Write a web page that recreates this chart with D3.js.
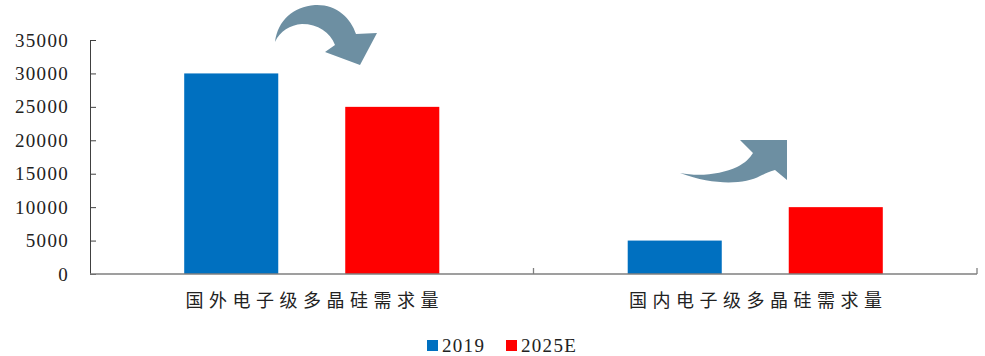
<!DOCTYPE html>
<html>
<head>
<meta charset="utf-8">
<script src="https://cdn.jsdelivr.net/npm/d3@7"></script>
<style>
  body { margin: 0; background: #fff; }
  .serif { font-family: "Liberation Serif", "Times New Roman", Times, serif; }
</style>
</head>
<body>
<div class="vis-bar"></div>
<script>
const categories = ["国外电子级多晶硅需求量", "国内电子级多晶硅需求量"];
const seriesNames = ["2019", "2025E"];
const values2019 = [30000, 5000];
const values2025E = [25000, 10000];
const yTicks = [0, 5000, 10000, 15000, 20000, 25000, 30000, 35000];

const colors = { "2019": "#0070C0", "2025E": "#FF0000" };
const arrowColor = "#6D8FA2";

const width = 985, height = 356;
const margin = { top: 40, right: 8, bottom: 82, left: 90 };

const svg = d3.select(".vis-bar")
  .append("svg")
  .attr("width", width)
  .attr("height", height);

const x0 = d3.scaleBand()
  .domain(categories)
  .range([margin.left, width - margin.right])
  .padding(0);

const x1 = d3.scaleBand()
  .domain(seriesNames)
  .range([0, x0.bandwidth()])
  .paddingInner(0.416)
  .paddingOuter(0.585);

const y = d3.scaleLinear()
  .domain([0, 35000])
  .range([height - margin.bottom, margin.top]);

const rows = categories.map((c, i) => ({
  cat: c,
  vals: [
    { key: "2019", value: values2019[i] },
    { key: "2025E", value: values2025E[i] }
  ]
}));

// bars
const groups = svg.selectAll(".grp")
  .data(rows)
  .enter()
  .append("g")
  .attr("class", "grp")
  .attr("transform", d => "translate(" + x0(d.cat) + ",0)");

groups.selectAll("rect")
  .data(d => d.vals)
  .enter()
  .append("rect")
  .attr("x", d => x1(d.key))
  .attr("y", d => y(d.value))
  .attr("width", x1.bandwidth())
  .attr("height", d => y(0) - y(d.value))
  .attr("fill", d => colors[d.key]);

// y axis
const yAxis = svg.append("g")
  .attr("transform", "translate(" + margin.left + ",0)")
  .call(d3.axisLeft(y).tickValues(yTicks).tickFormat(d3.format("d"))
    .tickSizeInner(-6).tickSizeOuter(-6).tickPadding(21));
yAxis.attr("font-family", null).attr("font-size", null);
yAxis.select(".domain").attr("stroke", "#404040");
yAxis.selectAll(".tick line").attr("stroke", "#404040");
yAxis.selectAll("text")
  .attr("class", "serif")
  .attr("fill", "#222")
  .style("font-size", "19px")
  .style("letter-spacing", "1.3px");

// x axis line with inward boundary ticks
const xBase = y(0);
svg.append("line")
  .attr("x1", margin.left).attr("x2", width - margin.right)
  .attr("y1", xBase).attr("y2", xBase)
  .attr("stroke", "#7f7f7f").attr("stroke-width", 1.3);

svg.selectAll(".xtick")
  .data(categories)
  .enter()
  .append("line")
  .attr("class", "xtick")
  .attr("x1", d => x0(d) + x0.bandwidth())
  .attr("x2", d => x0(d) + x0.bandwidth())
  .attr("y1", xBase).attr("y2", xBase - 6)
  .attr("stroke", "#7f7f7f").attr("stroke-width", 1.3);

svg.selectAll(".xlab")
  .data(categories)
  .enter()
  .append("text")
  .attr("class", "xlab")
  .attr("x", d => x0(d) + x0.bandwidth() / 2 + 3)
  .attr("y", xBase + 33)
  .attr("text-anchor", "middle")
  .attr("fill", "#222")
  .style("font-family", "'Noto Sans CJK SC', sans-serif")
  .style("font-size", "18px")
  .style("letter-spacing", "5.5px")
  .text(d => d);

// decorative arrows
svg.append("path")
  .attr("d", "M275,42 C278,20 293,7 315,5 C336,4 351,18 356,34 L377,33 L360,65 L325,52 L335,45 C330,32 318,24 302,24 C290,25 280,31 275,42 Z")
  .attr("fill", arrowColor);

svg.append("path")
  .attr("d", "M680,173 C700,177 722,174 737,167 C745,163 750,158 753,153 L740,140 L787,140 L787,180 L775,170 C768,172 765,174 760,176 C745,184 715,186 680,173 Z")
  .attr("fill", arrowColor);

// legend
const legend = svg.selectAll(".legend")
  .data(seriesNames)
  .enter()
  .append("g")
  .attr("class", "legend")
  .attr("transform", (d, i) => "translate(" + (427 + i * 79) + ",340)");

legend.append("rect")
  .attr("width", 11)
  .attr("height", 11)
  .attr("fill", d => colors[d]);

legend.append("text")
  .attr("class", "serif")
  .attr("x", 15)
  .attr("y", 12)
  .attr("fill", "#222")
  .style("font-size", "19px")
  .style("letter-spacing", "1.3px")
  .text(d => d);
</script>
</body>
</html>
